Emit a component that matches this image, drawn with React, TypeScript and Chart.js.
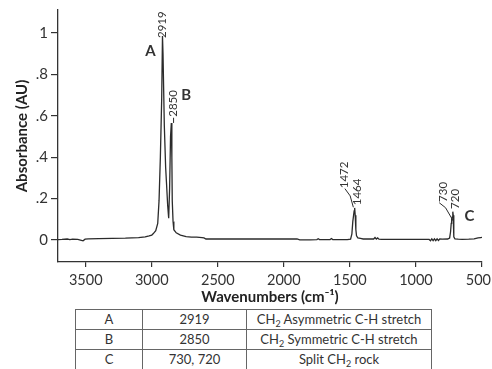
import { useEffect, useRef } from 'react';
import { Chart, registerables } from 'chart.js';
Chart.register(...registerables);

// ---- data ----
const wavenumbers = [
  3710, 3680, 3640, 3620, 3600, 3560, 3540, 3520, 3505, 3480, 3400, 3300, 3200, 3100, 3050, 3020, 3000,
  2990, 2970, 2955, 2945, 2935, 2925, 2919, 2915, 2905, 2895, 2889, 2880, 2872, 2865, 2858, 2852, 2848,
  2845, 2839, 2833, 2815, 2783, 2740, 2700, 2660, 2620, 2605, 2590, 2500, 2300, 2100, 1900, 1880, 1800,
  1750, 1740, 1730, 1650, 1640, 1630, 1520, 1495, 1485, 1478, 1472, 1468, 1464, 1460, 1455, 1450, 1440,
  1420, 1400, 1380, 1320, 1310, 1300, 1290, 1280, 1260, 1100, 900, 890, 880, 870, 860, 850, 840, 830,
  820, 800, 760, 745, 738, 733, 730, 726, 722, 720, 718, 715, 712, 705, 680, 650, 600, 560, 530, 510, 500,
];
const absorbance = [
  0.002, 0.003, 0.005, 0.002, 0.004, 0.003, 0.0, -0.004, 0.004, 0.006, 0.007, 0.008, 0.009, 0.012, 0.015, 0.02, 0.024,
  0.03, 0.045, 0.08, 0.19, 0.4, 0.68, 0.985, 0.9, 0.55, 0.35, 0.28, 0.17, 0.105, 0.25, 0.5, 0.565, 0.4,
  0.19, 0.09, 0.05, 0.035, 0.024, 0.016, 0.014, 0.014, 0.012, 0.01, 0.005, 0.005, 0.005, 0.005, 0.005, 0.001, 0.001,
  0.002, 0.006, 0.002, 0.002, 0.007, 0.002, 0.002, 0.004, 0.03, 0.09, 0.12, 0.14, 0.155, 0.12, 0.05, 0.02, 0.01,
  0.008, 0.005, 0.006, 0.005, 0.012, 0.005, 0.01, 0.004, 0.003, 0.003, 0.003, -0.003, 0.006, -0.003, 0.006, -0.003, 0.006, -0.002,
  0.005, 0.004, 0.005, 0.01, 0.04, 0.08, 0.1, 0.11, 0.13, 0.137, 0.12, 0.06, 0.015, 0.006, 0.004, 0.003, 0.004, 0.006, 0.01, 0.012, 0.013,
];
const xTicks = [3500, 3000, 2500, 2000, 1500, 1000, 500];
const yTicks = [0, 0.2, 0.4, 0.6, 0.8, 1];
const yTickLabels = ['0', '.2', '.4', '.6', '.8', '1'];

const peakTexts = ['2919', '2850', '1472', '1464', '730', '720'];
const bandLetters = ['A', 'B', 'C'];
const bandPositions = ['2919', '2850', '730, 720'];
const bandAssignments = ['Asymmetric C-H stretch', 'Symmetric C-H stretch', 'rock'];

// annotation anchors (data space) for the rotated peak labels: [wavenumber, absorbance at text start]
const peakLabelAnchors: [number, number][] = [
  [2919, 0.975], [2835, 0.595], [1540, 0.25], [1447, 0.168], [795, 0.184], [704, 0.15],
];
// leader lines in data space
const leaders: [number, number][][] = [
  [[2835, 0.59], [2835, 0.565]],
  [[1538, 0.248], [1498, 0.213], [1474, 0.158]],
  [[824, 0.18], [776, 0.156], [716, 0.09]],
];
// band letters anchors in data space
const letterAnchors: [number, number][] = [[3010, 0.91], [2740, 0.7], [595, 0.115]];

const TEXT = '#333';
const LINE = '#2b2b2b';
const FONT = 'Lato, "Open Sans", sans-serif';

const annotationPlugin = {
  id: 'irAnnotations',
  afterDatasetsDraw(chart: any) {
    const { ctx, scales } = chart;
    const xs = scales.x, ys = scales.y;
    ctx.save();
    ctx.fillStyle = TEXT;
    // x tick labels (kept inside the canvas at the right edge)
    ctx.font = `14.5px ${FONT}`;
    ctx.textAlign = 'left';
    ctx.textBaseline = 'middle';
    const labelY = xs.top + 18;
    xTicks.forEach((v) => {
      const t = String(v);
      const w = ctx.measureText(t).width;
      let left = xs.getPixelForValue(v) - w / 2;
      if (left + w > chart.width - 1) left = chart.width - 1 - w;
      ctx.fillText(t, left, labelY);
    });
    ctx.font = `11.5px ${FONT}`;
    peakTexts.forEach((t, i) => {
      const [w, a] = peakLabelAnchors[i];
      const px = xs.getPixelForValue(w);
      const py = ys.getPixelForValue(a);
      ctx.save();
      ctx.translate(px, py);
      ctx.rotate(-Math.PI / 2);
      ctx.fillText(t, 0, 0);
      ctx.restore();
    });
    ctx.strokeStyle = LINE;
    ctx.lineWidth = 1;
    leaders.forEach((pts) => {
      ctx.beginPath();
      pts.forEach(([w, a], j) => {
        const px = xs.getPixelForValue(w);
        const py = ys.getPixelForValue(a);
        if (j === 0) ctx.moveTo(px, py); else ctx.lineTo(px, py);
      });
      ctx.stroke();
    });
    ctx.font = `bold 15px ${FONT}`;
    ctx.textAlign = 'center';
    bandLetters.forEach((l, i) => {
      const [w, a] = letterAnchors[i];
      ctx.fillText(l, xs.getPixelForValue(w), ys.getPixelForValue(a));
    });
    ctx.restore();
  },
};

function App() {
  const ref = useRef<HTMLCanvasElement>(null);
  useEffect(() => {
    if (!ref.current) return;
    const chart = new Chart(ref.current, {
      type: 'line',
      data: {
        datasets: [
          {
            data: wavenumbers.map((w, i) => ({ x: w, y: absorbance[i] })),
            borderColor: LINE,
            borderWidth: 1.3,
            pointRadius: 0,
            tension: 0,
            fill: false,
          },
        ],
      },
      options: {
        animation: false,
        responsive: false,
        maintainAspectRatio: false,
        layout: { padding: { top: 10, right: 10, left: 0, bottom: 0 } },
        plugins: { legend: { display: false }, tooltip: { enabled: false } },
        scales: {
          x: {
            type: 'linear',
            reverse: true,
            min: 500,
            max: 3710,
            afterBuildTicks: (s: any) => { s.ticks = xTicks.map((v) => ({ value: v })); },
            afterFit: (s: any) => { s.height = 47; s.paddingLeft = 0; s.paddingRight = 0; },
            grid: { display: true, drawOnChartArea: false, drawTicks: true, tickLength: 5, color: TEXT, lineWidth: 1.2 },
            border: { display: true, color: TEXT, width: 1.3 },
            ticks: { color: 'rgba(0,0,0,0)', padding: 3, maxRotation: 0, font: { size: 14.5, family: FONT }, callback: (v: any) => String(v) },
            title: { display: true, text: 'Wavenumbers (cm⁻¹)', color: '#222', padding: { top: 0, bottom: 3 }, font: { size: 15, weight: 'bold', family: FONT } },
          },
          y: {
            type: 'linear',
            min: -0.106,
            max: 1.11,
            afterBuildTicks: (s: any) => { s.ticks = yTicks.map((v) => ({ value: v })); },
            afterFit: (s: any) => { s.width = 58; s.paddingTop = 0; s.paddingBottom = 0; },
            grid: { display: true, drawOnChartArea: false, drawTicks: true, tickLength: 7, color: TEXT, lineWidth: 1.2 },
            border: { display: true, color: TEXT, width: 1.3 },
            ticks: {
              color: TEXT, padding: 3, font: { size: 15, family: FONT },
              callback: (v: any) => { const i = yTicks.findIndex((t) => Math.abs(t - v) < 1e-9); return i >= 0 ? yTickLabels[i] : ''; },
            },
            title: { display: true, text: 'Absorbance (AU)', color: '#222', padding: { top: 13, bottom: 0 }, font: { size: 15, weight: 'bold', family: FONT } },
          },
        },
      },
      plugins: [annotationPlugin],
    } as any);
    return () => chart.destroy();
  }, []);

  const cell: React.CSSProperties = { border: '1px solid #666', padding: 0, height: 19, textAlign: 'center', verticalAlign: 'middle' };
  const sub: React.CSSProperties = { fontSize: 9, verticalAlign: -3, lineHeight: 0 };
  return (
    <div style={{ position: 'absolute', left: 0, top: 0, width: 492, height: 369, overflow: 'hidden', background: '#fff' }}>
      <canvas ref={ref} width={492} height={309} style={{ position: 'absolute', left: 0, top: 0, width: 492, height: 309 }} />
      <table style={{ position: 'absolute', left: 75, top: 309, width: 357, borderCollapse: 'collapse', fontFamily: FONT, fontSize: 13, color: TEXT, lineHeight: '15px' }}>
        <tbody>
          {bandLetters.map((l, i) => (
            <tr key={l}>
              <td style={{ ...cell, width: 66 }}>{l}</td>
              <td style={{ ...cell, width: 103 }}>{bandPositions[i]}</td>
              <td style={{ ...cell }}>
                {i < 2 ? (<>CH<span style={sub}>2</span> {bandAssignments[i]}</>) : (<>Split CH<span style={sub}>2</span> {bandAssignments[i]}</>)}
              </td>
            </tr>
          ))}
        </tbody>
      </table>
    </div>
  );
}

export default App;
